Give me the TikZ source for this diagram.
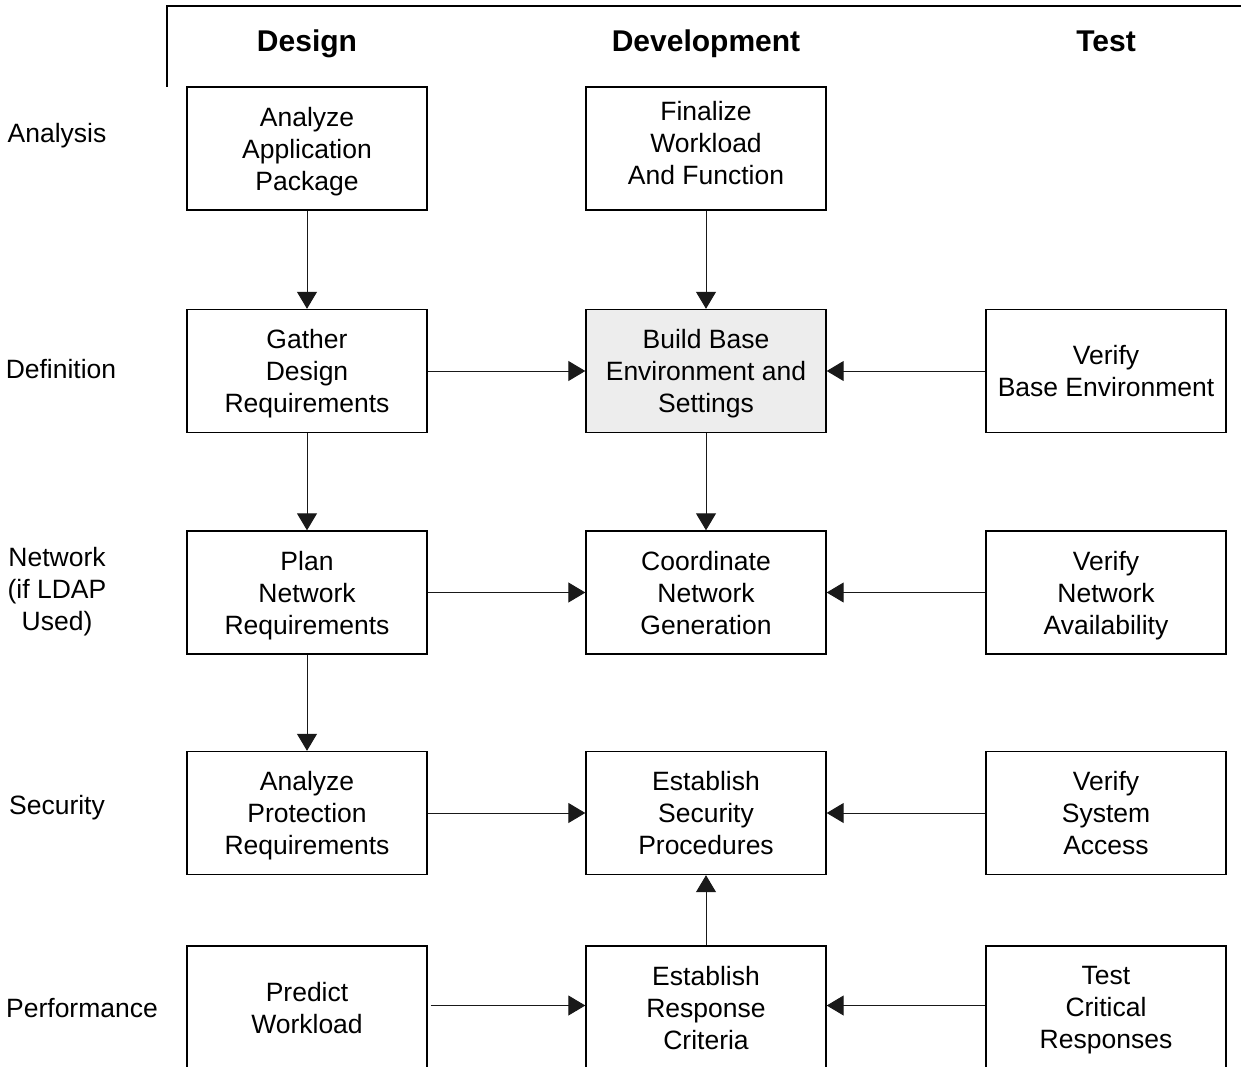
\documentclass[tikz,border=0pt]{standalone}
\usepackage{fontspec}
\setmainfont{Liberation Sans}
\usetikzlibrary{arrows.meta}
\begin{document}
\begin{tikzpicture}[x=1pt,y=-1pt,
  txt/.style={align=center,font=\fontsize{26.5}{32}\selectfont,inner sep=0pt,text depth=6pt,yshift=-3pt},
  box/.style={draw=black,line width=1.4pt,rectangle,minimum width=240pt,minimum height=123pt,inner sep=0pt},
  shaded/.style={box,fill=gray!14},
  hdr/.style={anchor=base,font=\fontsize{30}{36}\selectfont\bfseries},
  side/.style={txt},
  conn/.style={line width=1pt,draw=black!90,-{Triangle[length=17pt,width=20pt]}}]
\useasboundingbox (0,0) rectangle (1241,1067);
\fill[white] (0,0) rectangle (1241,1067);
% frame
\coordinate (fa) at (167,87);
\coordinate (fb) at (167,6);
\coordinate (fc) at (1241,6);
\draw[line width=1.8pt] (fa) -- (fb) -- (fc);
% headers
\node[hdr] (h1) at (307,52) {Design};
\node[hdr] (h2) at (706,52) {Development};
\node[hdr] (h3) at (1106,52) {Test};
% side labels
\node[side] (s1) at (57,133) {Analysis};
\node[side] (s2) at (61,369) {Definition};
\node[side] (s3) at (57,589) {Network\\(if LDAP\\Used)};
\node[side] (s4) at (57,805) {Security};
\node[side] (s5) at (82,1008) {Performance};
% boxes
\node[box] (a1) at (307,148.5) {};
\node[box] (a2) at (706,148.5) {};
\node[box] (b1) at (307,371) {};
\node[shaded] (b2) at (706,371) {};
\node[box] (b3) at (1106,371) {};
\node[box] (c1) at (307,592.5) {};
\node[box] (c2) at (706,592.5) {};
\node[box] (c3) at (1106,592.5) {};
\node[box] (d1) at (307,813) {};
\node[box] (d2) at (706,813) {};
\node[box] (d3) at (1106,813) {};
\node[box] (e1) at (307,1007.5) {};
\node[box] (e2) at (706,1007.5) {};
\node[box] (e3) at (1106,1007.5) {};
% box texts
\node[txt] (a1t) at (a1) {Analyze\\Application\\Package};
\node[txt,yshift=6pt] (a2t) at (a2) {Finalize\\Workload\\And Function};
\node[txt] (b1t) at (b1) {Gather\\Design\\Requirements};
\node[txt] (b2t) at (b2) {Build Base\\Environment and\\Settings};
\node[txt] (b3t) at (b3) {Verify\\Base Environment};
\node[txt] (c1t) at (c1) {Plan\\Network\\Requirements};
\node[txt] (c2t) at (c2) {Coordinate\\Network\\Generation};
\node[txt] (c3t) at (c3) {Verify\\Network\\Availability};
\node[txt] (d1t) at (d1) {Analyze\\Protection\\Requirements};
\node[txt] (d2t) at (d2) {Establish\\Security\\Procedures};
\node[txt] (d3t) at (d3) {Verify\\System\\Access};
\node[txt] (e1t) at (e1) {Predict\\Workload};
\node[txt] (e2t) at (e2) {Establish\\Response\\Criteria};
\node[txt] (e3t) at (e3) {Test\\Critical\\Responses};
% vertical connectors
\draw[conn] (a1) -- (b1);
\draw[conn] (b1) -- (c1);
\draw[conn] (c1) -- (d1);
\draw[conn] (a2) -- (b2);
\draw[conn] (b2) -- (c2);
\draw[conn] (e2) -- (d2);
% horizontal connectors
\draw[conn] (b1) -- (b2);
\draw[conn] (b3) -- (b2);
\draw[conn] (c1) -- (c2);
\draw[conn] (c3) -- (c2);
\draw[conn] (d1) -- (d2);
\draw[conn] (d3) -- (d2);
\draw[conn] ([xshift=3pt,yshift=2pt]e1.east) -- ([yshift=2pt]e2.west);
\draw[conn] ([yshift=2pt]e3.west) -- ([yshift=2pt]e2.east);
\end{tikzpicture}
\end{document}
